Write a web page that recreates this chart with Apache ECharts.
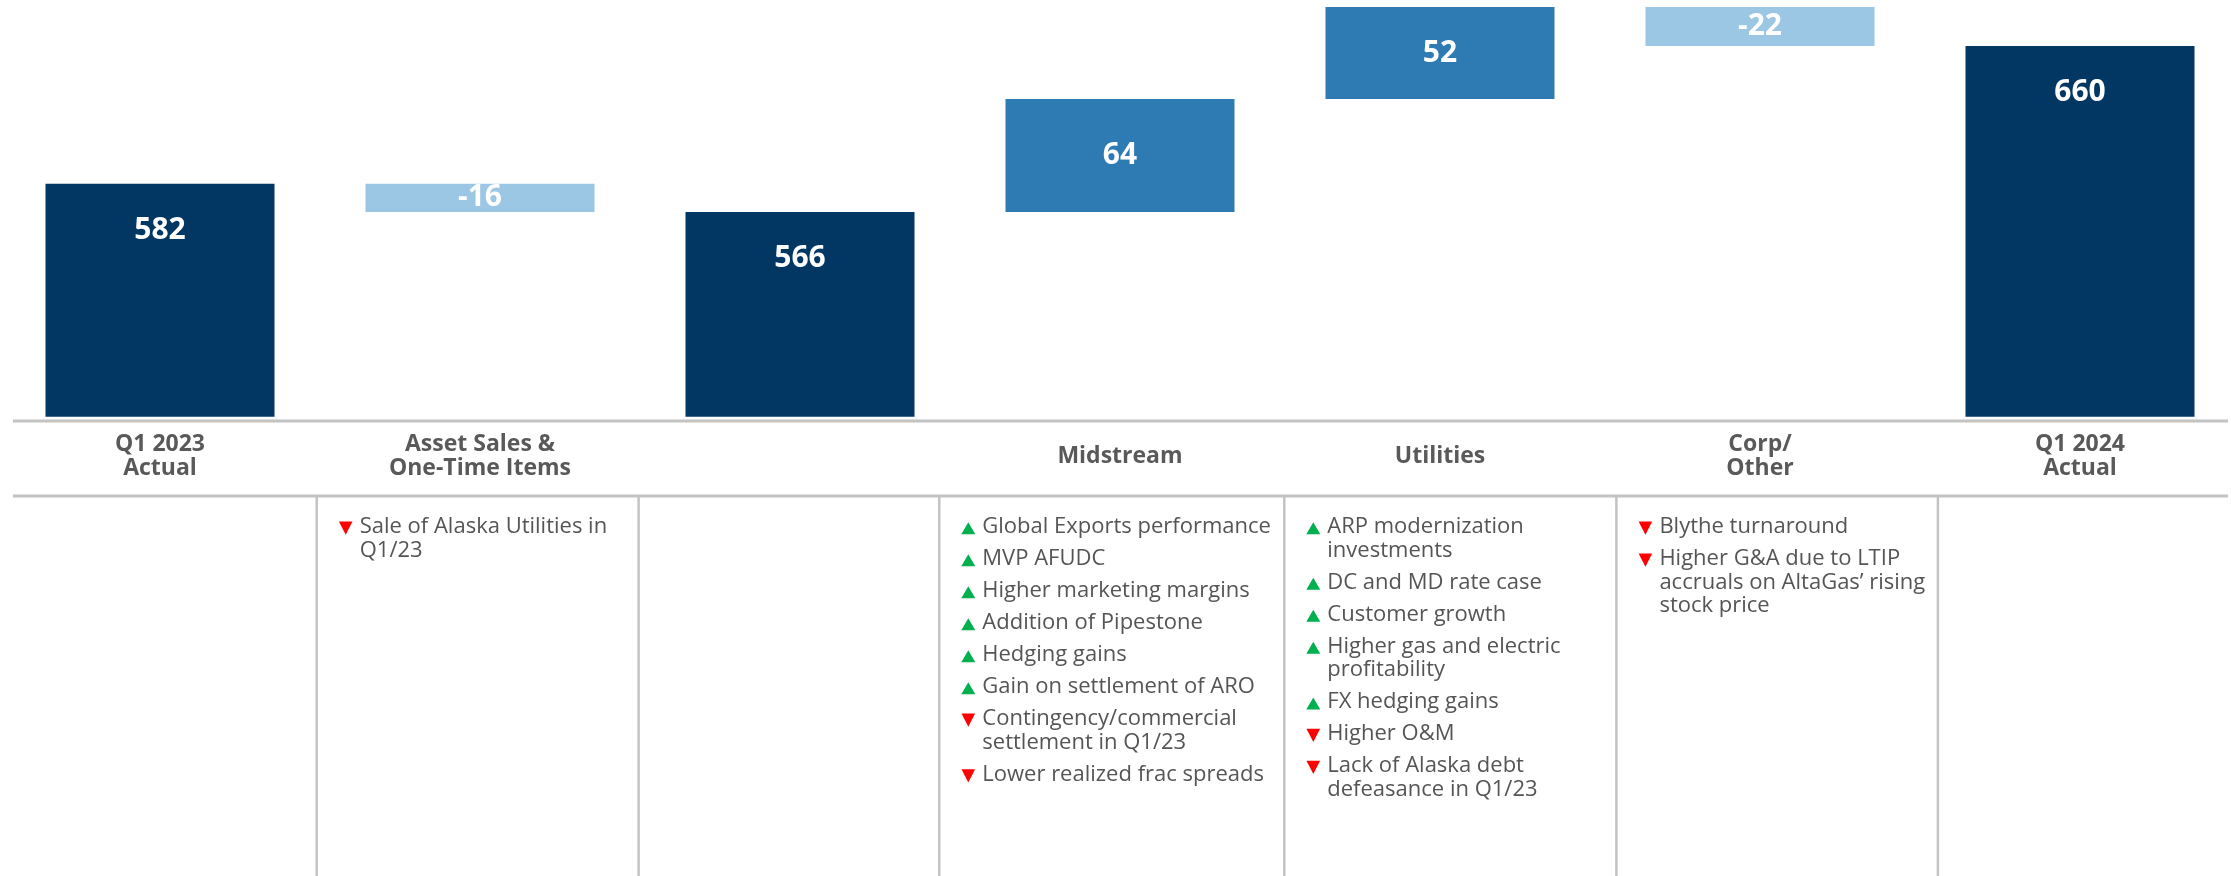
<!DOCTYPE html>
<html>
<head>
<meta charset="utf-8">
<script src="https://cdn.jsdelivr.net/npm/echarts@6/dist/echarts.min.js"></script>
<style>
  html, body { margin: 0; padding: 0; background: #fff; }
  #chart { width: 2231px; height: 876px; }
</style>
</head>
<body>
<div id="chart"></div>
<script>
// data
const categories = ['Q1 2023\nActual', 'Asset Sales &\nOne-Time Items', '', 'Midstream', 'Utilities', 'Corp/\nOther', 'Q1 2024\nActual']
const values = [582, -16, 566, 64, 52, -22, 660]
const isTotal = [true, false, true, false, false, false, true]

const assetNotes = [['down', 'Sale of Alaska Utilities in\nQ1/23']]
const midstreamNotes = [
  ['up', 'Global Exports performance'],
  ['up', 'MVP AFUDC'],
  ['up', 'Higher marketing margins'],
  ['up', 'Addition of Pipestone'],
  ['up', 'Hedging gains'],
  ['up', 'Gain on settlement of ARO'],
  ['down', 'Contingency/commercial\nsettlement in Q1/23'],
  ['down', 'Lower realized frac spreads']
]
const utilitiesNotes = [
  ['up', 'ARP modernization\ninvestments'],
  ['up', 'DC and MD rate case'],
  ['up', 'Customer growth'],
  ['up', 'Higher gas and electric\nprofitability'],
  ['up', 'FX hedging gains'],
  ['down', 'Higher O&M'],
  ['down', 'Lack of Alaska debt\ndefeasance in Q1/23']
]
const corpNotes = [
  ['down', 'Blythe turnaround'],
  ['down', 'Higher G&A due to LTIP\naccruals on AltaGas\u2019 rising\nstock price']
]

// styles / layout
const NAVY = '#033763'
const MID = '#2e7ab2'
const LIGHT = '#9bc6e4'
const GRID_LINE = '#c3c3c3'
const FONT = '"Open Sans", "Noto Sans", sans-serif'

const colLines = [316.7, 638.6, 939.3, 1284.3, 1616.4, 1937.9]
const noteBlocks = [
  { x: colLines[0], items: assetNotes },
  { x: colLines[2], items: midstreamNotes },
  { x: colLines[3], items: utilitiesNotes },
  { x: colLines[4], items: corpNotes }
]

// waterfall: transparent base + visible part
let running = 0
const baseData = []
const barData = []
values.forEach((v, i) => {
  if (isTotal[i]) {
    running = v
    baseData.push(0)
    barData.push({
      value: v,
      itemStyle: { color: NAVY },
      label: { position: 'insideTop', distance: 30 }
    })
  } else {
    baseData.push(v < 0 ? running + v : running)
    barData.push({
      value: Math.abs(v),
      itemStyle: { color: v < 0 ? LIGHT : MID },
      label: { position: 'inside' }
    })
    running += v
  }
})

// table lines and notes
const graphics = []
graphics.push({ type: 'line', shape: { x1: 13, y1: 421, x2: 2228, y2: 421 }, style: { stroke: GRID_LINE, lineWidth: 3 }, silent: true })
graphics.push({ type: 'line', shape: { x1: 13, y1: 496, x2: 2228, y2: 496 }, style: { stroke: GRID_LINE, lineWidth: 3 }, silent: true })
colLines.forEach(x => {
  graphics.push({ type: 'line', shape: { x1: x, y1: 496, x2: x, y2: 876 }, style: { stroke: GRID_LINE, lineWidth: 2.5 }, silent: true })
})

const LINE_H = 23.6
const GAP = 8.4
noteBlocks.forEach(block => {
  let y = 526.7
  block.items.forEach(item => {
    const dir = item[0]
    const text = item[1]
    const cx = block.x + 29
    const cy = y + 1.5
    const pts = dir === 'up'
      ? [[cx - 7, cy + 6], [cx + 7, cy + 6], [cx, cy - 6]]
      : [[cx - 6.8, cy - 6.6], [cx + 6.8, cy - 6.6], [cx, cy + 6.6]]
    graphics.push({ type: 'polygon', shape: { points: pts }, style: { fill: dir === 'up' ? '#00b050' : '#ff0000' }, silent: true })
    graphics.push({
      type: 'text',
      x: block.x + 43,
      y: y - LINE_H / 2,
      silent: true,
      style: {
        text: text,
        fill: '#555555',
        fontSize: 22,
        fontFamily: FONT,
        lineHeight: LINE_H,
        verticalAlign: 'top'
      }
    })
    const lines = text.split('\n').length
    y += lines * LINE_H + GAP
  })
})

const chart = echarts.init(document.getElementById('chart'))
chart.setOption({
  animation: false,
  grid: { left: 0, top: 0, width: 2240, height: 416.7, containLabel: false, outerBoundsMode: 'none' },
  xAxis: {
    type: 'category',
    data: categories,
    axisLine: { show: false },
    axisTick: { show: false },
    axisLabel: {
      interval: 0,
      margin: 40,
      verticalAlign: 'middle',
      lineHeight: 23.5,
      fontSize: 23,
      fontWeight: 'bold',
      color: '#595959',
      fontFamily: FONT
    }
  },
  yAxis: {
    type: 'value',
    min: 450,
    max: 686,
    show: false,
    splitLine: { show: false }
  },
  series: [
    {
      name: 'base',
      type: 'bar',
      stack: 'w',
      barWidth: 229,
      clip: true,
      silent: true,
      itemStyle: { color: 'rgba(0,0,0,0)' },
      data: baseData
    },
    {
      name: 'change',
      type: 'bar',
      stack: 'w',
      barWidth: 229,
      clip: true,
      label: {
        show: true,
        color: '#ffffff',
        fontSize: 30,
        fontWeight: 'bold',
        fontFamily: FONT,
        lineHeight: 34,
        formatter: p => String(values[p.dataIndex])
      },
      data: barData
    }
  ],
  graphic: graphics
})
</script>
</body>
</html>
